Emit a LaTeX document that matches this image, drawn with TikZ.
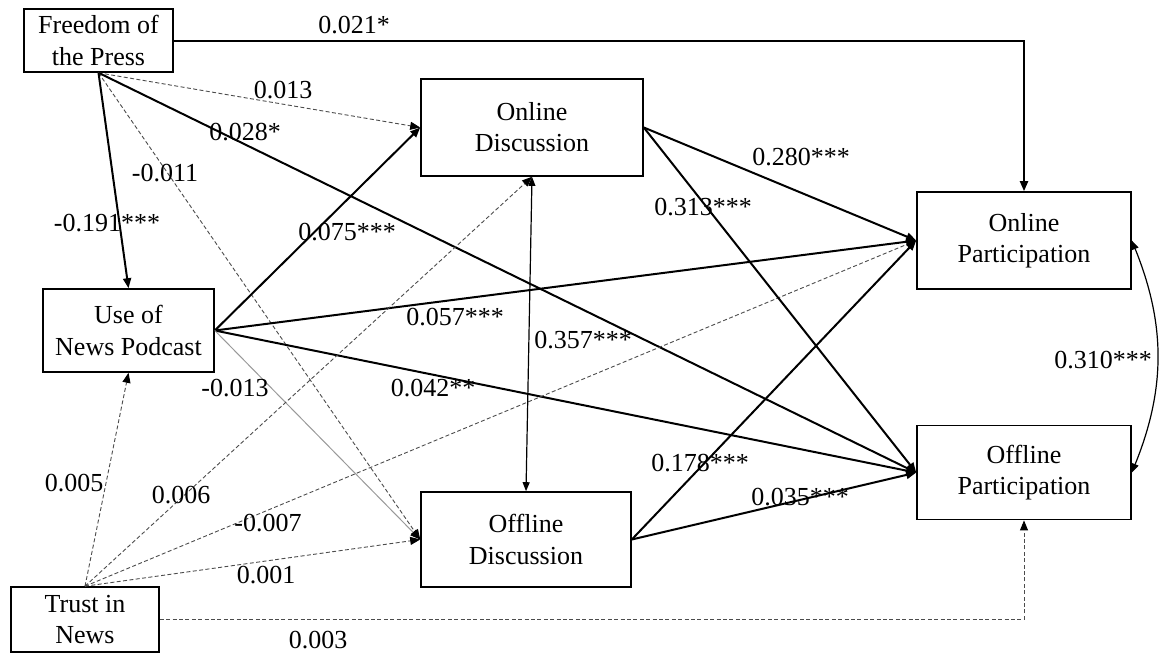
\documentclass[tikz,border=0pt]{standalone}
\usepackage{fontspec}
\setmainfont{Liberation Serif}
\usetikzlibrary{arrows.meta,positioning}

\begin{document}
\begin{tikzpicture}[
  x=0.5pt, y=-0.5pt,
  box/.style={draw, line width=0.8pt, align=center, inner sep=0pt, font=\fontsize{13}{15.6}\selectfont},
  lab/.style={font=\fontsize{13}{15.6}\selectfont, inner sep=0pt},
  sig/.style={-{Triangle[length=5pt, width=4pt]}, line width=1pt},
  ns/.style={-{Triangle[length=5pt, width=4pt, color=black]}, line width=0.45pt, draw=black!70, dash pattern=on 2pt off 1.2pt},
  faint/.style={-{Triangle[length=5pt, width=4pt, color=black]}, line width=0.5pt, draw=black!40},
  cov/.style={{Triangle[length=4.5pt, width=3.5pt]}-{Triangle[length=4.5pt, width=3.5pt]}, line width=0.6pt}
]
\useasboundingbox (0,0) rectangle (1165,653);

% variables
\node[box, minimum width=74.5pt, minimum height=31.5pt] (press) at (98.5,40.5) {Freedom of\\the Press};
\node[box, minimum width=85.5pt, minimum height=41.5pt] (podcast) at (128.5,330.5) {Use of\\News Podcast};
\node[box, minimum width=74pt, minimum height=32.5pt] (trust) at (85,619.5) {Trust in\\News};
\node[box, minimum width=111pt, minimum height=48.5pt] (ondisc) at (532,127.5) {Online\\Discussion};
\node[box, minimum width=105pt, minimum height=47.5pt] (offdisc) at (526,539.5) {Offline\\Discussion};
\node[box, minimum width=107pt, minimum height=48.5pt] (onpart) at (1024,240.5) {Online\\Participation};
\node[box, minimum width=107pt, minimum height=47pt, below=67.5pt of onpart] (offpart) {Offline\\Participation};

% paths
\draw[sig] (press.east) -| (onpart.north);
\draw[ns] (press.south) -- (ondisc.west);
\draw[sig] (press.south) -- (offpart.west);
\draw[ns] (press.south) -- (offdisc.west);
\draw[sig] (press.south) -- (podcast.north);
\draw[sig] (podcast.east) -- (ondisc.west);
\draw[sig] (podcast.east) -- (onpart.west);
\draw[sig] (podcast.east) -- (offpart.west);
\draw[faint] (podcast.east) -- (offdisc.west);
\draw[ns] (trust.north) -- (podcast.south);
\draw[ns] (trust.north) -- (ondisc.south);
\draw[ns] (trust.north) -- (onpart.west);
\draw[ns] (trust.north) -- (offdisc.west);
\draw[ns] (trust.east) -| (offpart.south);
\draw[cov] (ondisc.south) -- (offdisc.north);
\draw[sig] (ondisc.east) -- (onpart.west);
\draw[sig] (ondisc.east) -- (offpart.west);
\draw[sig] (offdisc.east) -- (onpart.west);
\draw[sig] (offdisc.east) -- (offpart.west);
\draw[cov] (onpart.east) to[bend left=22] (offpart.east);

% coefficients
\node[lab] (c1) at (354,25) {0.021*};
\node[lab] (c2) at (283,90) {0.013};
\node[lab] (c3) at (245,132) {0.028*};
\node[lab] (c4) at (165,173) {-0.011};
\node[lab] (c5) at (107,223) {-0.191***};
\node[lab] (c6) at (347,232) {0.075***};
\node[lab] (c7) at (455,317) {0.057***};
\node[lab] (c8) at (433,388) {0.042**};
\node[lab] (c9) at (235,388) {-0.013};
\node[lab] (c10) at (74,483) {0.005};
\node[lab] (c11) at (181,495) {0.006};
\node[lab] (c12) at (268,523) {-0.007};
\node[lab] (c13) at (266,575) {0.001};
\node[lab] (c14) at (318,640) {0.003};
\node[lab] (c15) at (583,340) {0.357***};
\node[lab] (c16) at (801,157) {0.280***};
\node[lab] (c17) at (703,207) {0.313***};
\node[lab] (c18) at (700,463) {0.178***};
\node[lab] (c19) at (800,497) {0.035***};
\node[lab] (c20) at (1103,360) {0.310***};
\end{tikzpicture}
\end{document}
